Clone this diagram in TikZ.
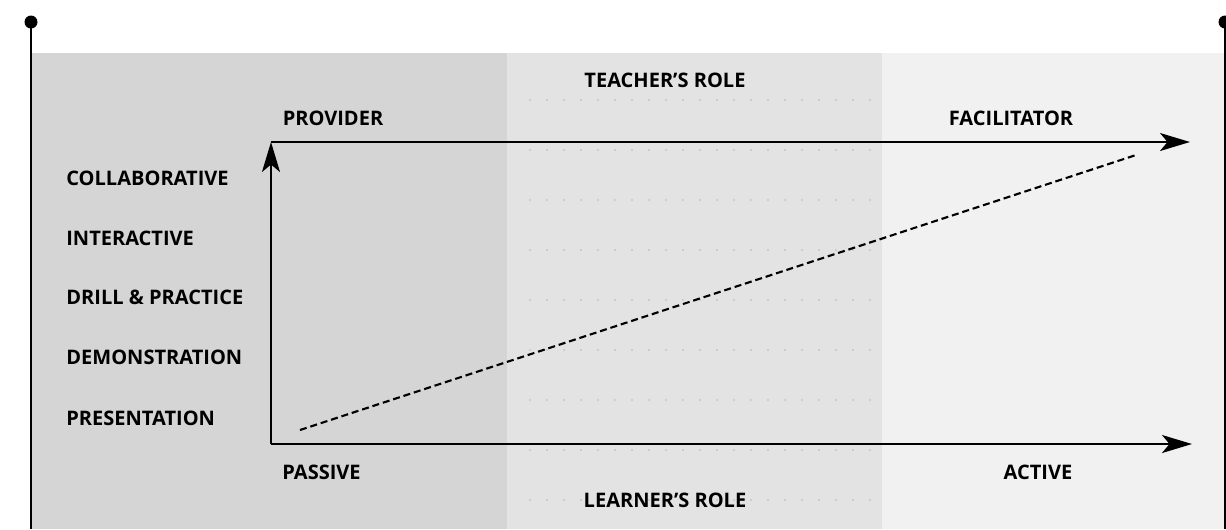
\documentclass[tikz,border=0pt]{standalone}
\usepackage{fontspec}
\setmainfont{Open Sans}
\usepackage{tikz}
\usetikzlibrary{positioning,arrows.meta,patterns}

\definecolor{zonedark}{HTML}{D5D5D5}
\definecolor{zonemid}{HTML}{E3E3E3}
\definecolor{zonelight}{HTML}{F1F1F1}

\begin{document}
\begin{tikzpicture}[x=0.02cm, y=-0.02cm]
\tikzstyle{every node}=[inner sep=0pt, font=\bfseries\fontsize{11.4}{13}\selectfont]
\tikzstyle{axis}=[line width=1.2pt, -{Stealth[length=0.6cm, width=0.36cm, inset=0.15cm]}]
\tikzstyle{lab}=[anchor=west]
\useasboundingbox (0,0) rectangle (1226,529);
% background zones
\fill[zonedark] (31,53) rectangle (507,529);
\fill[zonemid] (507,53) rectangle (882,529);
\fill[zonelight] (882,53) rectangle (1225,529);
\foreach \yy in {100,150,200,250,300,350,400,450,500}
  \foreach \xx in {530,547,...,870}
    \fill[black!28] (\xx,\yy) circle (0.8);
% side posts
\draw[line width=1.2pt] (31,22) -- (31,529);
\fill (31,22) circle (6.5);
\draw[line width=1.2pt] (1225,22) -- (1225,529);
\fill (1225,22) circle (6.5);
% axes
\coordinate (O) at (271,444);
\coordinate (T) at (271,142);
\coordinate (TR) at (1190,142);
\coordinate (BR) at (1192,444);
\draw[axis] (O) -- (T);
\draw[axis] (T) -- (TR);
\draw[axis] (O) -- (BR);
\coordinate (S) at (300,430);
\coordinate (E) at (1136,155);
\draw[line width=1.2pt, dash pattern=on 4pt off 2.2pt] (S) -- (E);
% labels
\node (teacher) at (665,80) {TEACHER’S ROLE};
\node (provider) at (333,118) {PROVIDER};
\node (facil) at (1011,118) {FACILITATOR};
\node[lab] (collab) at (66,178) {COLLABORATIVE};
\node[lab] (inter) at (66,238) {INTERACTIVE};
\node[lab] (drill) at (66,297) {DRILL \& PRACTICE};
\node[lab] (demo) at (66,357) {DEMONSTRATION};
\node[lab] (pres) at (66,418) {PRESENTATION};
\node[lab] (passive) at (282,472) {PASSIVE};
\node (active) at (1038,472) {ACTIVE};
\node (learner) at (665,500) {LEARNER’S ROLE};
\end{tikzpicture}
\end{document}
